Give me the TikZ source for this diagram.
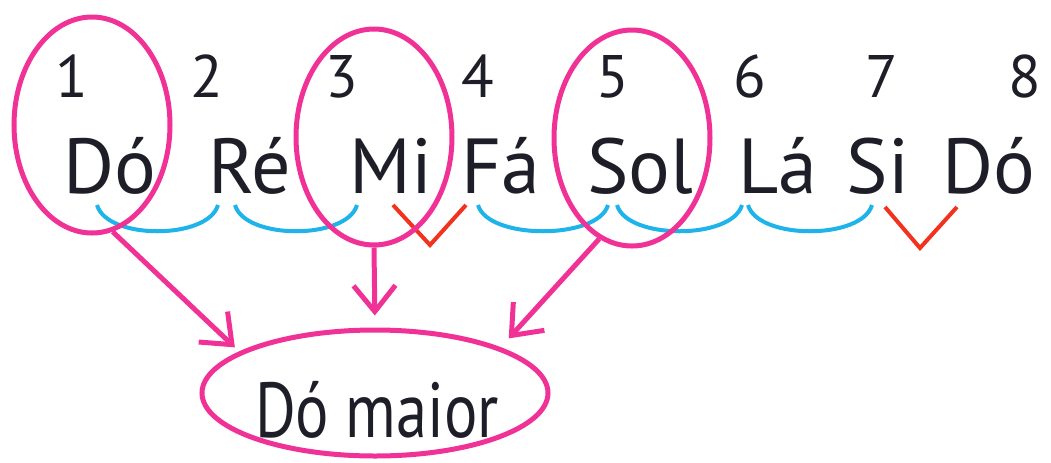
\documentclass[tikz,border=0pt]{standalone}
\usepackage{fontspec}
\setmainfont{PT Sans}
\usetikzlibrary{shapes.geometric, arrows.meta}
\definecolor{ringpink}{RGB}{240,50,150}
\definecolor{toneblue}{RGB}{30,180,235}
\definecolor{semired}{RGB}{240,50,30}
\definecolor{inkdark}{RGB}{30,30,40}

\begin{document}
\begin{tikzpicture}[x=0.5pt, y=-0.5pt,
    note/.style={text=inkdark, font=\fontsize{39}{46}\selectfont, inner sep=0pt, anchor=base},
    num/.style={text=inkdark, font=\fontsize{30}{36}\selectfont, inner sep=0pt, anchor=base},
    ring/.style={draw=ringpink, line width=2.5pt, ellipse, minimum width=78pt, minimum height=108pt, inner sep=0pt},
    tone/.style={toneblue, line width=2pt},
    semi/.style={semired, line width=2pt, line join=miter},
    pointer/.style={ringpink, line width=2.5pt, -{Straight Barb[length=13pt,width=21pt]}}]
        \useasboundingbox (0,0) rectangle (1051,462);

        % Degree numbers
        \foreach \i/\x in {1/72, 2/207, 3/342, 4/478, 5/613, 6/750, 7/882, 8/1025}
            \node[num] (d\i) at (\x,97) {\i};

        % Note names of the scale
        \foreach \i/\x/\name in {1/110/Dó, 2/250/Ré, 3/391/Mi, 4/501/Fá, 5/640/Sol, 6/778/Lá, 7/878/Si, 8/989/Dó}
            \node[note] (n\i) at (\x,193) {\name};

        % Whole tones
        \foreach \a/\b in {97/218, 235/357, 478/608, 617/742, 748/872}
            \draw[tone] (\a,205) .. controls (\a+10,240) and (\b-10,240) .. (\b,205);

        % Half tones
        \draw[semi] (393,205) -- (430,245) -- (466,205);
        \draw[semi] (885,207) -- (920,248) -- (957,207);

        % Circle the notes of the chord
        \node[ring] (r1) at (92,125) {};
        \node[ring] (r3) at (374,137) {};
        \node[ring] (r5) at (632,138) {};

        % The chord
        \node[ring, minimum width=173pt, minimum height=63pt] (maj) at (375,393) {};
        \node[note] (majtxt) at (377,437) {\scalebox{0.8}[1]{Dó maior}};

        % Arrows to the chord
        \draw[pointer, shorten >=3pt] (r1.-79) -- (maj.163);
        \draw[pointer, shorten >=6pt] (r3.south) -- (maj.north);
        \draw[pointer, shorten >=6pt] (r5.252) -- (maj.20);
\end{tikzpicture}
\end{document}
